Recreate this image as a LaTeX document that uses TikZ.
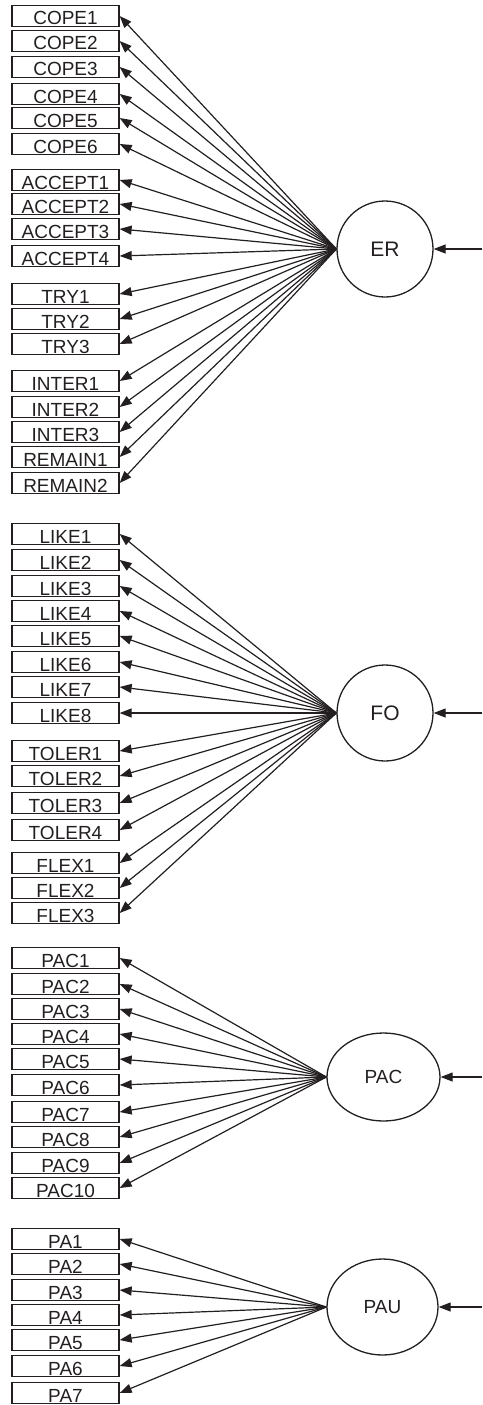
\documentclass[tikz,border=0pt]{standalone}
\usepackage{fontspec}
\setmainfont{Liberation Sans}
\usetikzlibrary{arrows.meta,shapes.geometric}
\definecolor{ink}{HTML}{231F20}
\begin{document}
\begin{tikzpicture}[x=1pt,y=-1pt,
  ind/.style={draw=ink, line width=1.3pt, rectangle, minimum width=107pt, minimum height=21pt,
    inner sep=0pt, text height=19.5pt, text depth=1.5pt, font=\fontsize{19}{19}\selectfont, text=ink},
  lat/.style={draw=ink, line width=1.3pt, inner sep=0pt, text=ink},
  load/.style={-{Triangle[length=12pt,width=9pt]}, line width=1.2pt, draw=ink}]
\useasboundingbox (0,0) rectangle (482,1405);
% latent variables
\node[lat, circle, minimum size=96pt, font=\fontsize{21}{21}\selectfont] (ER) at (385,249) {ER};
\node[lat, circle, minimum size=96pt, font=\fontsize{21}{21}\selectfont] (FO) at (385,713) {FO};
\node[lat, ellipse, minimum width=113pt, minimum height=88pt, font=\fontsize{19}{19}\selectfont] (PAC) at (383.5,1077) {PAC};
\node[lat, ellipse, minimum width=111pt, minimum height=96pt, font=\fontsize{19}{19}\selectfont] (PAU) at (382.5,1307) {PAU};
% residual arrows
\coordinate (eER) at (482,249);
\coordinate (eFO) at (482,713);
\coordinate (ePAC) at (482,1077);
\coordinate (ePAU) at (482,1307);
\draw[load] (eER) -- (ER.east);
\draw[load] (eFO) -- (FO.east);
\draw[load] (ePAC) -- (PAC.east);
\draw[load] (ePAU) -- (PAU.east);
% indicators
\foreach \n/\y in {COPE1/16,COPE2/41,COPE3/67,COPE4/94,COPE5/118,COPE6/144,
  ACCEPT1/180,ACCEPT2/204,ACCEPT3/229,ACCEPT4/256,TRY1/294,TRY2/319,TRY3/344,
  INTER1/381,INTER2/407,INTER3/432,REMAIN1/457,REMAIN2/483}{
  \node[ind] (\n) at (65.5,\y) {\n};
  \draw[load] (ER.west) -- (\n.east);
}
\foreach \n/\y in {LIKE1/534,LIKE2/560,LIKE3/586,LIKE4/611,LIKE5/636,LIKE6/662,LIKE7/687,LIKE8/713,
  TOLER1/751,TOLER2/776,TOLER3/803,TOLER4/830,FLEX1/863,FLEX2/888,FLEX3/913}{
  \node[ind] (\n) at (65.5,\y) {\n};
  \draw[load] (FO.west) -- (\n.east);
}
\foreach \n/\y in {PAC1/958,PAC2/984,PAC3/1009,PAC4/1034,PAC5/1059,PAC6/1085,PAC7/1112,
  PAC8/1137,PAC9/1163,PAC10/1188}{
  \node[ind] (\n) at (65.5,\y) {\n};
  \draw[load] (PAC.west) -- (\n.east);
}
\foreach \n/\y in {PA1/1239,PA2/1264,PA3/1290,PA4/1315,PA5/1340,PA6/1366,PA7/1393}{
  \node[ind] (\n) at (65.5,\y) {\n};
  \draw[load] (PAU.west) -- (\n.east);
}
\end{tikzpicture}
\end{document}
